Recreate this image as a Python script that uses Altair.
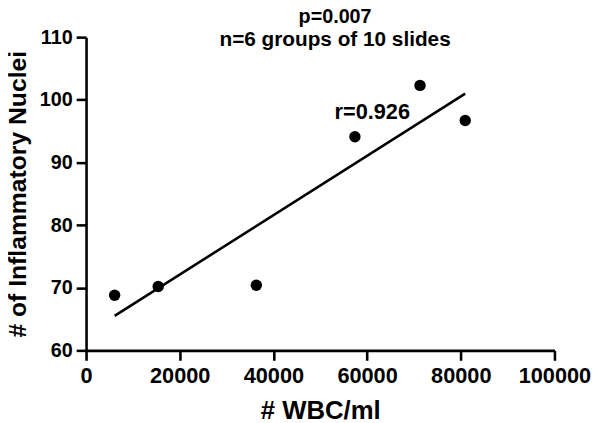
import altair as alt
import pandas as pd

# Data
wbc = [6100, 15400, 36350, 57400, 71300, 80950]
nuclei = [68.8, 70.2, 70.4, 94.1, 102.3, 96.7]

x_ticks = [0, 20000, 40000, 60000, 80000, 100000]
y_ticks = [60, 70, 80, 90, 100, 110]

r_label = ["r=0.926"]
r_pos_x = [61100]
r_pos_y = [98.0]

df = pd.DataFrame({"wbc": wbc, "nuclei": nuclei})
df_r = pd.DataFrame({"label": r_label, "x": r_pos_x, "y": r_pos_y})

FONT = "Liberation Sans"

xscale = alt.Scale(domain=[0, 100000], nice=False)
yscale = alt.Scale(domain=[60, 110], nice=False)

xaxis = alt.Axis(values=x_ticks, format="d", title="# WBC/ml",
                 titleFontSize=26, titleY=69, titleBaseline="alphabetic",
                 labelFontSize=22,
                 labelPadding=5, labelOverlap=False, labelFlush=False, labelBound=False)
yaxis = alt.Axis(values=y_ticks, title="# of Inflammatory Nuclei",
                 titleFontSize=25, titleX=-61, titleBaseline="alphabetic",
                 labelFontSize=20,
                 labelPadding=4, labelOverlap=False, labelFlush=False, labelBound=False)

base = alt.Chart(df)

points = base.mark_circle(size=133, color="black", opacity=1).encode(
    x=alt.X("wbc:Q", scale=xscale, axis=xaxis),
    y=alt.Y("nuclei:Q", scale=yscale, axis=yaxis),
)

fit = base.transform_regression("wbc", "nuclei").mark_line(
    color="black", strokeWidth=2.6
).encode(
    x=alt.X("wbc:Q", scale=xscale),
    y=alt.Y("nuclei:Q", scale=yscale),
)

rtext = alt.Chart(df_r).mark_text(
    font=FONT, fontWeight="bold", fontSize=22, color="black"
).encode(
    x=alt.X("x:Q", scale=xscale),
    y=alt.Y("y:Q", scale=yscale),
    text="label:N",
)

chart = alt.layer(points, fit, rtext).properties(
    width=474, height=317,
    title=alt.Title("p=0.007", subtitle="n=6 groups of 10 slides",
                    font=FONT, fontSize=20, fontWeight="bold", color="black",
                    subtitleFont=FONT, subtitleFontSize=21,
                    subtitleFontWeight="bold", subtitleColor="black",
                    subtitlePadding=2, anchor="middle", dx=15, offset=-23),
    autosize=alt.AutoSizeParams(type="none"),
    padding={"left": 79, "top": 27, "right": 38, "bottom": 72},
).configure_view(stroke=None).configure_axis(
    grid=False,
    domainColor="black", domainWidth=2.6,
    tickColor="black", tickWidth=2.6, tickSize=10,
    labelFont=FONT, labelFontWeight="bold", labelFontSize=21, labelColor="black",
    titleFont=FONT, titleFontWeight="bold", titleColor="black",
)

chart.save("out.html", embed_options={"renderer": "svg", "actions": False})
